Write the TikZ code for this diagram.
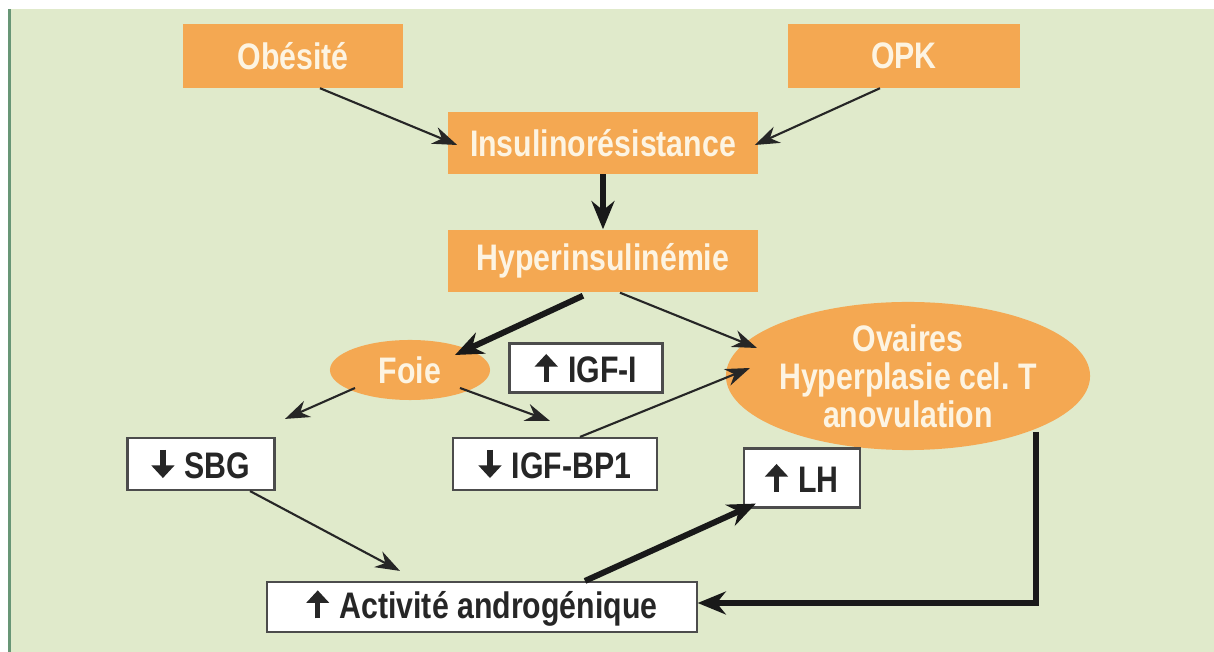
\documentclass[tikz,border=0pt]{standalone}
\usepackage{fontspec}
\setmainfont{Liberation Sans}[FakeStretch=0.82]
\usetikzlibrary{calc,arrows.meta,shapes.geometric}

\definecolor{fond}{RGB}{224,234,203}
\definecolor{bord}{RGB}{104,150,118}
\definecolor{orangebox}{RGB}{244,168,82}
\definecolor{creme}{RGB}{253,244,226}

\tikzset{
  obox/.style={fill=orangebox, text=creme, font=\bfseries\fontsize{10.5}{12}\selectfont,
    inner sep=0pt, align=center},
  wbox/.style={fill=white, draw=black!70, line width=0.6pt, text=black!85,
    font=\bfseries\fontsize{10.5}{12}\selectfont, inner sep=0pt},
  oval/.style={ellipse, fill=orangebox, text=creme, inner sep=0pt,
    font=\bfseries\fontsize{10.5}{10.8}\selectfont, align=center},
  fin/.style={-{Stealth[length=7pt,width=5pt]}, line width=0.6pt, black!85},
  gros/.style={-{Stealth[length=8pt,width=6.5pt]}, line width=1.7pt, black!90},
  fleche/.style={line width=1.5pt, black!85, -{Triangle[length=3.6pt,width=6.4pt]}},
}
% bold arrow glyphs
\newcommand{\haut}{\tikz[baseline=0pt,x=1cm,y=1cm]\draw[fleche] (0,0) -- (0,8pt);\hspace{3pt}}
\newcommand{\bas}{\tikz[baseline=0pt,x=1cm,y=1cm]\draw[fleche] (0,8pt) -- (0,0);\hspace{3pt}}

\begin{document}
\begin{tikzpicture}[x=0.01cm,y=-0.01cm]

% Background
\useasboundingbox (0,0) rectangle (1214,652);
\fill[fond] (8,9) rectangle (1214,652);
\fill[bord] (8,9) rectangle (11,652);

% Orange boxes
\node[obox, minimum width=2.2cm, minimum height=0.63cm] (obesite) at (293,56) {Obésité};
\node[obox, minimum width=2.32cm, minimum height=0.63cm] (opk) at (904,56) {OPK};
\node[obox, minimum width=3.1cm, minimum height=0.61cm] (insul) at (603,143) {Insulinorésistance};
\node[obox, minimum width=3.1cm, minimum height=0.62cm] (hyper) at (603,261) {Hyperinsulinémie};

% Ellipses
\node[oval, minimum width=1.6cm, minimum height=0.6cm] (foie) at (410,370) {Foie};
\node[oval, minimum width=3.62cm, minimum height=1.48cm] (ovaires) at (908,376)
  {Ovaires\\Hyperplasie cel.\ T\\anovulation};

% White boxes
\node[wbox, minimum width=1.53cm, minimum height=0.49cm] (igfi) at (586,368) {\haut IGF-I};
\node[wbox, minimum width=1.47cm, minimum height=0.52cm] (sbg) at (201,464) {\bas SBG};
\node[wbox, minimum width=2.04cm, minimum height=0.52cm] (igfbp) at (555,464) {\bas IGF-BP1};
\node[wbox, minimum width=1.16cm, minimum height=0.59cm] (lh) at (802,478) {\haut LH};
\node[wbox, minimum width=4.29cm, minimum height=0.5cm] (activ) at (482,607) {\haut Activité androgénique};

% Arrows
\draw[fin] ($(obesite.south)+(27,0)$) -- ($(insul.west)+(10,2)$);
\draw[fin] ($(opk.south)+(-24,0)$) -- ($(insul.east)+(-4,2)$);
\draw[gros] (insul.south) -- (hyper.north);
\draw[gros] ($(hyper.south)+(-20,3)$) -- ($(foie.center)+(45,-15)$);
\draw[fin] ($(hyper.south)+(17,0)$) -- ($(ovaires.center)+(-151,-28)$);
\draw[fin] ($(foie.center)+(-55,18)$) -- ($(sbg.north)+(84,-18)$);
\draw[fin] ($(foie.center)+(50,18)$) -- ($(igfbp.north)+(-5,-16)$);
\draw[fin] ($(igfbp.north)+(25,0)$) -- ($(ovaires.center)+(-158,-8)$);
\draw[fin] ($(sbg.south)+(49,0)$) -- ($(activ.north)+(-82,-10)$);
\draw[gros] ($(activ.north)+(103,0)$) -- ($(lh.south west)+(13,-5)$);
\draw[gros] ($(ovaires.center)+(128,56)$) |- ($(activ.east)+(0,-4)$);

\end{tikzpicture}
\end{document}
